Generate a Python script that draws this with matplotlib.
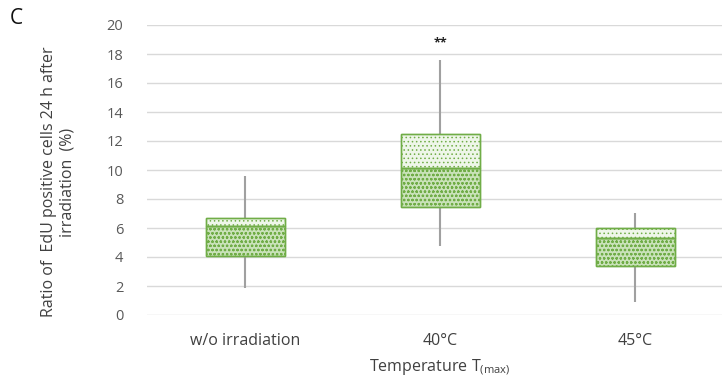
import matplotlib
matplotlib.use("Agg")
import matplotlib.pyplot as plt
import numpy as np

plt.rcParams['font.family'] = ['Open Sans', 'DejaVu Sans']
plt.rcParams['hatch.linewidth'] = 0.6

categories = ['w/o irradiation', '40°C', '45°C']
whisker_low = [1.85, 4.75, 0.9]
q1 = [4.1, 7.45, 3.35]
median = [6.15, 10.15, 5.3]
q3 = [6.7, 12.45, 6.0]
whisker_high = [9.6, 17.6, 7.05]
yticks = [0, 2, 4, 6, 8, 10, 12, 14, 16, 18, 20]

fig = plt.figure(figsize=(7.23, 3.79), dpi=100)
ax = fig.add_axes([147/723, 1-315/379, 575/723, 290/379])

x = np.arange(len(categories))
green = '#70AD47'
w = 0.405

ax.vlines(x, whisker_low, q1, color='#a0a0a0', lw=1.5, zorder=2)
ax.vlines(x, q3, whisker_high, color='#a0a0a0', lw=1.5, zorder=2)

lower_h = np.array(median) - np.array(q1)
upper_h = np.array(q3) - np.array(median)
ax.bar(x, lower_h, bottom=q1, width=w, facecolor='#c9e2b9', edgecolor=green,
       hatch='oooo', lw=1.0, zorder=3)
ax.bar(x, upper_h, bottom=median, width=w, facecolor='#eef6e9', edgecolor=green,
       hatch='....', lw=1.0, zorder=3)
ax.bar(x, lower_h, bottom=q1, width=w, facecolor='none', edgecolor=green, lw=1.0, zorder=4)
ax.bar(x, upper_h, bottom=median, width=w, facecolor='none', edgecolor=green, lw=1.0, zorder=4)

ax.text(x[1], 18.75, '**', ha='center', va='center', fontsize=9, color='#222222', fontweight='bold')

ax.set_ylim(0, 20)
ax.set_xlim(-0.503, 2.446)
ax.set_yticks(yticks)
ax.set_xticks(x)
ax.set_xticklabels(categories, fontsize=11.5, color='#404040')
ax.tick_params(axis='y', labelsize=10.5, labelcolor='#595959', length=0, pad=17)
ax.tick_params(axis='x', length=0, pad=13)
ax.grid(axis='y', color='#d9d9d9', lw=1.0, zorder=0)
ax.set_axisbelow(True)
for s in ax.spines.values():
    s.set_visible(False)

fig.text(440/723, 1-367/379, 'Temperature T$_{\\mathregular{(max)}}$', ha='center', va='center',
         fontsize=11.5, color='#404040')
fig.text(58/723, 1-182/379, 'Ratio of  EdU positive cells 24 h after\nirradiation  (%)',
         rotation=90, ha='center', va='center', fontsize=11.5, color='#404040', linespacing=1.2)
fig.text(16/723, 1-18/379, 'C', ha='center', va='center', fontsize=15, color='#111111')

fig.savefig('out.png', dpi=100)
